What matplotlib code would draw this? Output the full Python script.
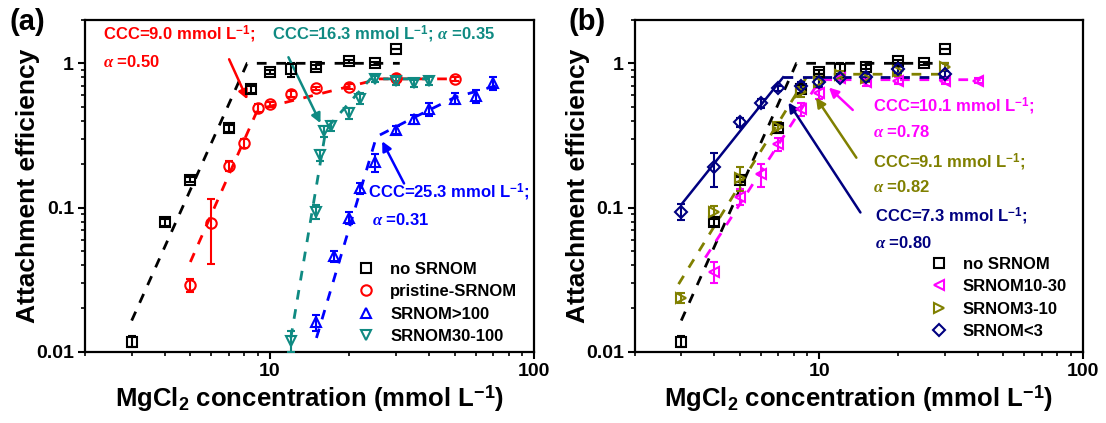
import numpy as np
import matplotlib
matplotlib.use("Agg")
import matplotlib.pyplot as plt
from matplotlib.ticker import LogLocator, NullFormatter

plt.rcParams["font.family"] = ["Liberation Sans", "DejaVu Sans"]
plt.rcParams["font.weight"] = "bold"
plt.rcParams["axes.labelweight"] = "bold"
plt.rcParams["mathtext.fontset"] = "custom"
plt.rcParams["mathtext.rm"] = "Liberation Sans:bold"
plt.rcParams["mathtext.bf"] = "Liberation Sans:bold"
plt.rcParams["mathtext.it"] = "Liberation Serif:italic:bold"

# ---- panel (a) data ----
no_x = [3, 4, 5, 7, 8.5, 10, 12, 15, 20, 25, 30]
no_y = [0.0118, 0.079, 0.156, 0.356, 0.66, 0.87, 0.91, 0.95, 1.03, 1.0, 1.25]
no_err = [0.001, 0.004, 0.006, 0.02, 0.04, 0.03, 0.1, 0.03, 0.03, 0.02, 0.0]

prist_x = [5, 6, 7, 8, 9, 10, 12, 15, 20, 30, 50]
prist_y = [0.029, 0.078, 0.195, 0.28, 0.49, 0.52, 0.61, 0.67, 0.69, 0.79, 0.78]
prist_err = [0.003, 0.037, 0.015, 0.02, 0.03, 0.02, 0.03, 0.02, 0.03, 0.04, 0.03]

gt100_x = [15, 17.5, 20, 22, 25, 30, 35, 40, 50, 60, 70]
gt100_y = [0.016, 0.046, 0.085, 0.137, 0.207, 0.345, 0.41, 0.48, 0.57, 0.59, 0.73]
gt100_err = [0.002, 0.004, 0.008, 0.012, 0.03, 0.02, 0.03, 0.05, 0.05, 0.06, 0.08]

s30_x = [12, 15, 15.5, 16, 17, 20, 22, 25, 30, 35, 40]
s30_y = [0.012, 0.094, 0.23, 0.34, 0.37, 0.45, 0.57, 0.78, 0.76, 0.73, 0.76]
s30_err = [0.002, 0.01, 0.02, 0.03, 0.03, 0.04, 0.05, 0.04, 0.05, 0.04, 0.05]

# ---- panel (b) data ----
s10_x = [4, 5, 6, 7, 8.5, 10, 12, 15, 20, 30, 40]
s10_y = [0.036, 0.119, 0.17, 0.276, 0.48, 0.62, 0.79, 0.74, 0.76, 0.76, 0.76]
s10_err = [0.006, 0.015, 0.03, 0.03, 0.05, 0.05, 0.04, 0.04, 0.04, 0.04, 0.03]

s3_x = [3, 4, 5, 7, 8.5, 10, 12, 15, 20, 30]
s3_y = [0.0237, 0.094, 0.16, 0.36, 0.63, 0.74, 0.83, 0.79, 0.88, 0.94]
s3_err = [0.002, 0.008, 0.03, 0.03, 0.05, 0.05, 0.05, 0.05, 0.06, 0.06]

lt3_x = [3, 4, 5, 6, 7, 8.5, 10, 12, 15, 20, 30]
lt3_y = [0.094, 0.19, 0.39, 0.53, 0.67, 0.70, 0.74, 0.79, 0.80, 0.92, 0.85]
lt3_err = [0.012, 0.05, 0.03, 0.04, 0.03, 0.04, 0.05, 0.04, 0.05, 0.06, 0.04]

# ---- fitted lines ----
fit_no_x, fit_no_y = [3, 8.2, 31], [0.0165, 1.0, 1.0]
fit_prist_x, fit_prist_y = [5, 9, 26, 51], [0.042, 0.48, 0.78, 0.78]
fit_gt100_x, fit_gt100_y = [15, 25.3, 35, 50, 72], [0.0125, 0.31, 0.42, 0.58, 0.70]
fit_s30_x, fit_s30_y = [12, 16.3, 24, 40], [0.0125, 0.35, 0.78, 0.78]
fit_s10_x, fit_s10_y = [3.7, 10.1, 41], [0.045, 0.77, 0.77]
fit_s3_x, fit_s3_y = [2.93, 9.1, 31], [0.0295, 0.84, 0.84]
fit_lt3_x, fit_lt3_y = [3, 7.3], [0.105, 0.80]
fit_lt3_flat_x, fit_lt3_flat_y = [7.3, 31], [0.80, 0.80]

RED, TEAL, BLUE = "#ff0000", "#0f8a82", "#0000ff"
MAG, OLIVE, NAVY = "#ff00ff", "#808000", "#000080"

fig = plt.figure(figsize=(11.06, 4.23), dpi=100)
ax_a = fig.add_axes([0.077, 0.168, 0.406, 0.785])
ax_b = fig.add_axes([0.574, 0.168, 0.405, 0.785])


def series(ax, x, y, err, marker, color, label, ms=7.5):
    ax.errorbar(x, y, yerr=err, fmt=marker, color=color, mfc="none", mec=color,
                ms=ms, mew=1.5, elinewidth=1.5, capsize=3, capthick=1.5,
                label=label, zorder=3)


def fit(ax, x, y, color, dashed=True):
    if dashed:
        ax.plot(x, y, color=color, lw=2, dashes=(3.5, 3.5), zorder=2)
    else:
        ax.plot(x, y, color=color, lw=1.8, zorder=2)


def style(ax):
    ax.set_xscale("log")
    ax.set_yscale("log")
    ax.set_xlim(2, 100)
    ax.set_ylim(0.01, 2)
    ax.set_xticks([10, 100])
    ax.set_xticklabels(["10", "100"])
    ax.set_yticks([0.01, 0.1, 1])
    ax.set_yticklabels(["0.01", "0.1", "1"])
    ax.xaxis.set_minor_locator(LogLocator(base=10, subs=np.arange(2, 10)))
    ax.yaxis.set_minor_locator(LogLocator(base=10, subs=np.arange(2, 10)))
    ax.xaxis.set_minor_formatter(NullFormatter())
    ax.yaxis.set_minor_formatter(NullFormatter())
    ax.tick_params(which="major", direction="out", length=5, width=1.5,
                   labelsize=14, pad=3)
    ax.tick_params(which="minor", direction="out", length=3, width=1.2)
    for sp in ax.spines.values():
        sp.set_linewidth(1.6)
    ax.set_xlabel(r"MgCl$_{\mathbf{2}}$ concentration (mmol L$^{\mathbf{-1}}$)", fontsize=18.5)
    ax.set_ylabel("Attachment efficiency", fontsize=19)
    ax.xaxis.set_label_coords(0.5, -0.095)
    ax.yaxis.set_label_coords(-0.10, 0.5)


# ---------------- panel (a) ----------------
fit(ax_a, fit_no_x, fit_no_y, "black")
fit(ax_a, fit_prist_x, fit_prist_y, RED)
fit(ax_a, fit_gt100_x, fit_gt100_y, BLUE)
fit(ax_a, fit_s30_x, fit_s30_y, TEAL)
series(ax_a, no_x, no_y, no_err, "s", "black", "no SRNOM")
series(ax_a, prist_x, prist_y, prist_err, "o", RED, "pristine-SRNOM")
series(ax_a, gt100_x, gt100_y, gt100_err, "^", BLUE, "SRNOM>100")
series(ax_a, s30_x, s30_y, s30_err, "v", TEAL, "SRNOM30-100")
style(ax_a)

arrow = dict(arrowstyle="-|>", lw=1.8, mutation_scale=14)
ax_a.annotate("", xy=(8.3, 0.54), xytext=(0.318, 0.889), textcoords="axes fraction",
              arrowprops=dict(arrow, color=RED))
ax_a.annotate("", xy=(15.7, 0.37), xytext=(0.450, 0.895), textcoords="axes fraction",
              arrowprops=dict(arrow, color=TEAL))
ax_a.annotate("", xy=(26.3, 0.30), xytext=(0.713, 0.50), textcoords="axes fraction",
              arrowprops=dict(arrow, color=BLUE))
txt = dict(fontsize=12, fontweight="bold", transform=ax_a.transAxes, va="center", ha="left")
ax_a.text(0.040, 0.955, r"CCC=9.0 mmol L$^{\mathbf{-1}}$;", color=RED, **txt)
ax_a.text(0.040, 0.873, r"$\alpha$ =0.50", color=RED, **txt)
ax_a.text(0.416, 0.955, r"CCC=16.3 mmol L$^{\mathbf{-1}}$; $\alpha$ =0.35", color=TEAL, **txt)
ax_a.text(0.630, 0.479, r"CCC=25.3 mmol L$^{\mathbf{-1}}$;", color=BLUE, **txt)
ax_a.text(0.639, 0.398, r"$\alpha$ =0.31", color=BLUE, **txt)

h, l = ax_a.get_legend_handles_labels()
ax_a.legend([x[0] for x in h], l, loc="upper left", bbox_to_anchor=(0.607, 0.272),
            frameon=False, fontsize=12, handlelength=1.0, handletextpad=0.95,
            labelspacing=0.45, borderpad=0, borderaxespad=0)

# ---------------- panel (b) ----------------
fit(ax_b, fit_no_x, fit_no_y, "black")
fit(ax_b, fit_s10_x, fit_s10_y, MAG)
fit(ax_b, fit_s3_x, fit_s3_y, OLIVE)
fit(ax_b, fit_lt3_x, fit_lt3_y, NAVY, dashed=False)
fit(ax_b, fit_lt3_flat_x, fit_lt3_flat_y, NAVY)
series(ax_b, no_x, no_y, no_err, "s", "black", "no SRNOM")
series(ax_b, s10_x, s10_y, s10_err, "<", MAG, "SRNOM10-30")
series(ax_b, s3_x, s3_y, s3_err, ">", OLIVE, "SRNOM3-10")
series(ax_b, lt3_x, lt3_y, lt3_err, "D", NAVY, "SRNOM<3", ms=6.5)
style(ax_b)

ax_b.annotate("", xy=(10.7, 0.70), xytext=(0.491, 0.723), textcoords="axes fraction",
              arrowprops=dict(arrow, color=MAG))
ax_b.annotate("", xy=(9.6, 0.60), xytext=(0.498, 0.578), textcoords="axes fraction",
              arrowprops=dict(arrow, color=OLIVE))
ax_b.annotate("", xy=(7.55, 0.555), xytext=(0.507, 0.413), textcoords="axes fraction",
              arrowprops=dict(arrow, color=NAVY))
txt["transform"] = ax_b.transAxes
ax_b.text(0.532, 0.738, r"CCC=10.1 mmol L$^{\mathbf{-1}}$;", color=MAG, **txt)
ax_b.text(0.532, 0.663, r"$\alpha$ =0.78", color=MAG, **txt)
ax_b.text(0.532, 0.572, r"CCC=9.1 mmol L$^{\mathbf{-1}}$;", color=OLIVE, **txt)
ax_b.text(0.532, 0.497, r"$\alpha$ =0.82", color=OLIVE, **txt)
ax_b.text(0.536, 0.407, r"CCC=7.3 mmol L$^{\mathbf{-1}}$;", color=NAVY, **txt)
ax_b.text(0.536, 0.328, r"$\alpha$ =0.80", color=NAVY, **txt)

h, l = ax_b.get_legend_handles_labels()
ax_b.legend([x[0] for x in h], l, loc="upper left", bbox_to_anchor=(0.660, 0.287),
            frameon=False, fontsize=12, handlelength=1.0, handletextpad=0.95,
            labelspacing=0.45, borderpad=0, borderaxespad=0)

fig.text(0.025, 0.948, "(a)", fontsize=21, fontweight="bold", ha="center", va="center")
fig.text(0.531, 0.948, "(b)", fontsize=21, fontweight="bold", ha="center", va="center")

fig.savefig("out.png", dpi=100)
